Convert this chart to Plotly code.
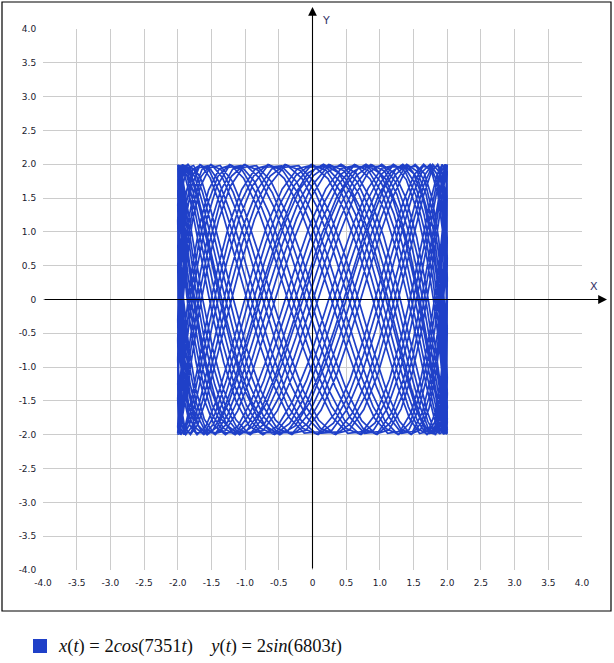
import numpy as np
import plotly.graph_objects as go

# Curve definition (from legend): x(t) = 2cos(7351t), y(t) = 2sin(6803t)
amp_x = 2.0
amp_y = 2.0
freq_x = 7351
freq_y = 6803
t_start = 0.0
t_end = 1.0
n_samples = 1150

tick_values = [-4.0, -3.5, -3.0, -2.5, -2.0, -1.5, -1.0, -0.5, 0.0, 0.5, 1.0, 1.5, 2.0, 2.5, 3.0, 3.5, 4.0]
tick_labels = ["-4.0", "-3.5", "-3.0", "-2.5", "-2.0", "-1.5", "-1.0", "-0.5", "0",
               "0.5", "1.0", "1.5", "2.0", "2.5", "3.0", "3.5", "4.0"]

t = np.linspace(t_start, t_end, n_samples)
x = amp_x * np.cos(freq_x * t)
y = amp_y * np.sin(freq_y * t)

BLUE = "#1f40c8"
W, H = 614, 663
L, R, T, B = 43, 32, 29, 93
pw, ph = W - L - R, H - T - B


def px(xp):
    return (xp - L) / pw


def py(yp):
    return (H - B - yp) / ph


fig = go.Figure()
fig.add_trace(go.Scatter(x=x, y=y, mode="lines", line=dict(color=BLUE, width=1.7),
                         hoverinfo="skip", showlegend=False))

axis_common = dict(range=[-4, 4], tickvals=tick_values, ticktext=tick_labels,
                   showgrid=True, gridcolor="#cccccc", gridwidth=1, zeroline=False,
                   showline=False, ticks="outside", ticklen=4, tickcolor="rgba(0,0,0,0)",
                   tickfont=dict(family="DejaVu Sans", size=9, color="#1a1a2e"),
                   fixedrange=True)
fig.update_xaxes(**axis_common)
fig.update_yaxes(**axis_common)

shapes = [
    # outer frame
    dict(type="rect", xref="paper", yref="paper", x0=px(2), x1=px(611), y0=py(611), y1=py(2),
         line=dict(color="#000000", width=1.2), fillcolor="rgba(0,0,0,0)", layer="below"),
    # legend swatch
    dict(type="rect", xref="paper", yref="paper", x0=px(33), x1=px(47), y0=py(653), y1=py(639),
         line=dict(width=0), fillcolor=BLUE),
]

annotations = [
    # x axis with arrow
    dict(x=px(607), y=0, xref="paper", yref="y", ax=-(607 - L), ay=0, axref="pixel", ayref="pixel",
         text="", showarrow=True, arrowhead=2, arrowsize=1.6, arrowwidth=1.1, arrowcolor="#000000"),
    # y axis with arrow
    dict(x=0, y=py(7), xref="x", yref="paper", ax=0, ay=(H - B - 7), axref="pixel", ayref="pixel",
         text="", showarrow=True, arrowhead=2, arrowsize=1.6, arrowwidth=1.1, arrowcolor="#000000"),
    dict(x=px(600), y=py(286), xref="paper", yref="paper", text="X", showarrow=False,
         font=dict(family="DejaVu Sans", size=11, color="#333366")),
    dict(x=px(326), y=py(12), xref="paper", yref="paper", text="Y", showarrow=False,
         font=dict(family="DejaVu Sans", size=11, color="#333366")),
    dict(x=px(56), y=py(646), xref="paper", yref="paper", xanchor="left", yanchor="middle",
         text="<i>x</i>(<i>t</i>) = 2<i>cos</i>(7351<i>t</i>)&nbsp;&nbsp;&nbsp;&nbsp;<i>y</i>(<i>t</i>) = 2<i>sin</i>(6803<i>t</i>)",
         showarrow=False, font=dict(family="Liberation Serif", size=18.5, color="#111111")),
]

fig.update_layout(width=W, height=H, margin=dict(l=L, r=R, t=T, b=B),
                  paper_bgcolor="white", plot_bgcolor="white",
                  shapes=shapes, annotations=annotations, showlegend=False)
fig.write_html("out.html", config={"displayModeBar": False},
               post_script="document.body.style.margin='0';document.body.style.overflow='hidden';")
